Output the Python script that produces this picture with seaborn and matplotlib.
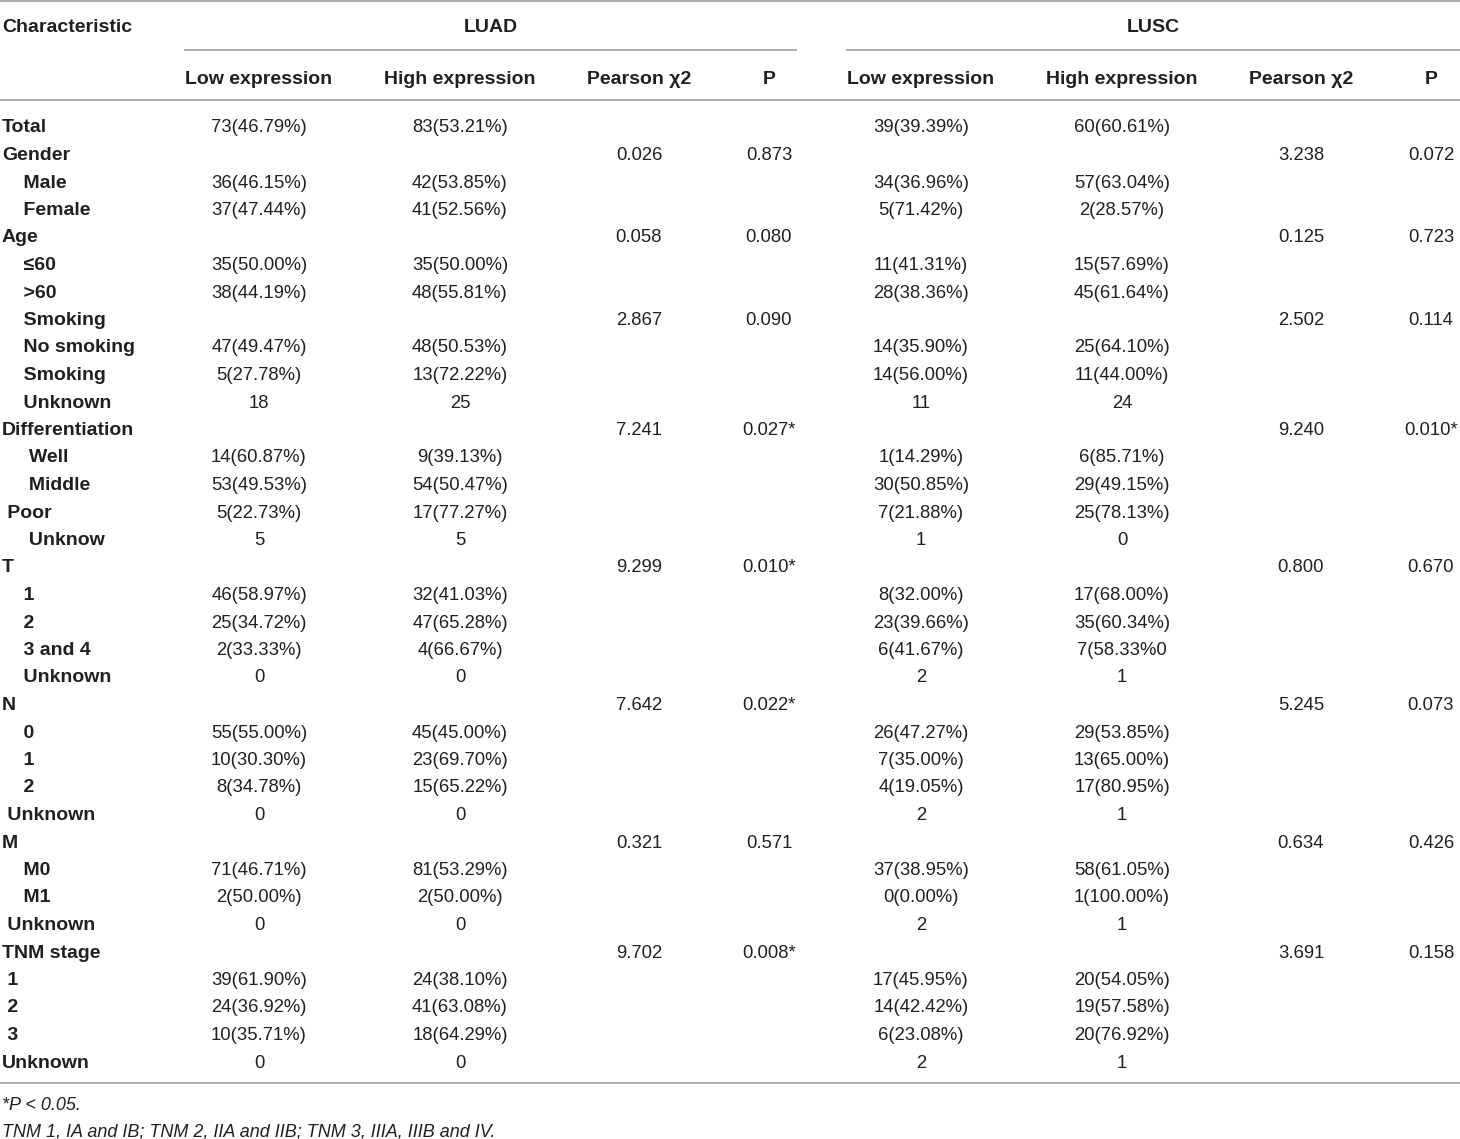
import seaborn as sns
import matplotlib.pyplot as plt

# table content
characteristics = [
    'Total', 'Gender', '    Male', '    Female', 'Age', '    ≤60', '    >60',
    '    Smoking', '    No smoking', '    Smoking', '    Unknown',
    'Differentiation', '     Well', '     Middle', ' Poor', '     Unknow',
    'T', '    1', '    2', '    3 and 4', '    Unknown',
    'N', '    0', '    1', '    2', ' Unknown',
    'M', '    M0', '    M1', ' Unknown',
    'TNM stage', ' 1', ' 2', ' 3', 'Unknown',
]

luad_low = [
    '73(46.79%)', '', '36(46.15%)', '37(47.44%)', '', '35(50.00%)', '38(44.19%)',
    '', '47(49.47%)', '5(27.78%)', '18',
    '', '14(60.87%)', '53(49.53%)', '5(22.73%)', '5',
    '', '46(58.97%)', '25(34.72%)', '2(33.33%)', '0',
    '', '55(55.00%)', '10(30.30%)', '8(34.78%)', '0',
    '', '71(46.71%)', '2(50.00%)', '0',
    '', '39(61.90%)', '24(36.92%)', '10(35.71%)', '0',
]
luad_high = [
    '83(53.21%)', '', '42(53.85%)', '41(52.56%)', '', '35(50.00%)', '48(55.81%)',
    '', '48(50.53%)', '13(72.22%)', '25',
    '', '9(39.13%)', '54(50.47%)', '17(77.27%)', '5',
    '', '32(41.03%)', '47(65.28%)', '4(66.67%)', '0',
    '', '45(45.00%)', '23(69.70%)', '15(65.22%)', '0',
    '', '81(53.29%)', '2(50.00%)', '0',
    '', '24(38.10%)', '41(63.08%)', '18(64.29%)', '0',
]
luad_chi = {1: '0.026', 4: '0.058', 7: '2.867', 11: '7.241', 16: '9.299',
            21: '7.642', 26: '0.321', 30: '9.702'}
luad_p = {1: '0.873', 4: '0.080', 7: '0.090', 11: '0.027*', 16: '0.010*',
          21: '0.022*', 26: '0.571', 30: '0.008*'}

lusc_low = [
    '39(39.39%)', '', '34(36.96%)', '5(71.42%)', '', '11(41.31%)', '28(38.36%)',
    '', '14(35.90%)', '14(56.00%)', '11',
    '', '1(14.29%)', '30(50.85%)', '7(21.88%)', '1',
    '', '8(32.00%)', '23(39.66%)', '6(41.67%)', '2',
    '', '26(47.27%)', '7(35.00%)', '4(19.05%)', '2',
    '', '37(38.95%)', '0(0.00%)', '2',
    '', '17(45.95%)', '14(42.42%)', '6(23.08%)', '2',
]
lusc_high = [
    '60(60.61%)', '', '57(63.04%)', '2(28.57%)', '', '15(57.69%)', '45(61.64%)',
    '', '25(64.10%)', '11(44.00%)', '24',
    '', '6(85.71%)', '29(49.15%)', '25(78.13%)', '0',
    '', '17(68.00%)', '35(60.34%)', '7(58.33%0', '1',
    '', '29(53.85%)', '13(65.00%)', '17(80.95%)', '1',
    '', '58(61.05%)', '1(100.00%)', '1',
    '', '20(54.05%)', '19(57.58%)', '20(76.92%)', '1',
]
lusc_chi = {1: '3.238', 4: '0.125', 7: '2.502', 11: '9.240', 16: '0.800',
            21: '5.245', 26: '0.634', 30: '3.691'}
lusc_p = {1: '0.072', 4: '0.723', 7: '0.114', 11: '0.010*', 16: '0.670',
          21: '0.073', 26: '0.426', 30: '0.158'}

groups = ['LUAD', 'LUSC']
sub_headers = ['Low expression', 'High expression', 'Pearson χ2', 'P']
footnotes = ['*P < 0.05.',
             'TNM 1, IA and IB; TNM 2, IIA and IIB; TNM 3, IIIA, IIIB and IV.']

sns.set_theme(style='white')
plt.rcParams['font.family'] = ['Liberation Sans', 'DejaVu Sans']

W, H = 1460, 1139
fig = plt.figure(figsize=(W / 100, H / 100), dpi=100)
ax = fig.add_axes([0, 0, 1, 1])
ax.set_xlim(0, W)
ax.set_ylim(H, 0)
ax.axis('off')

ink = '#231f20'
rule = '#a0a0a0'
dy = 2  # matplotlib centres text a touch high
col_x = [259, 460, 639, 769, 921, 1122, 1301, 1431]
group_x = [491, 1153]
bold = dict(fontsize=14, fontweight='bold', color=ink, va='center')
plain = dict(fontsize=13.3, color=ink, va='center', ha='center')

# header
ax.hlines(1, 0, W, color=rule, lw=1.2)
ax.text(2, 26 + dy, 'Characteristic', ha='left', **bold)
for g, gx in zip(groups, group_x):
    ax.text(gx, 26 + dy, g, ha='center', **bold)
ax.hlines(50, 184, 797, color=rule, lw=1.2)
ax.hlines(50, 846, W, color=rule, lw=1.2)
for i, h in enumerate(sub_headers * 2):
    ax.text(col_x[i], 77 + dy, h, ha='center', **bold)
ax.hlines(100, 0, W, color=rule, lw=1.2)

# body
row_y = [126 + dy + 27.5 * i for i in range(len(characteristics))]
for i, y in enumerate(row_y):
    ax.text(2, y, characteristics[i], ha='left', **bold)
    cells = [luad_low[i], luad_high[i], luad_chi.get(i, ''), luad_p.get(i, ''),
             lusc_low[i], lusc_high[i], lusc_chi.get(i, ''), lusc_p.get(i, '')]
    for cx, c in zip(col_x, cells):
        if c:
            ax.text(cx, y, c, **plain)

ax.hlines(1083, 0, W, color=rule, lw=1.2)
ax.text(2, 1104 + dy, footnotes[0], ha='left', va='center', fontsize=13,
        style='italic', color=ink)
ax.text(2, 1130 + dy, footnotes[1], ha='left', va='center', fontsize=13,
        style='italic', color=ink)

fig.savefig('out.png', dpi=100)
